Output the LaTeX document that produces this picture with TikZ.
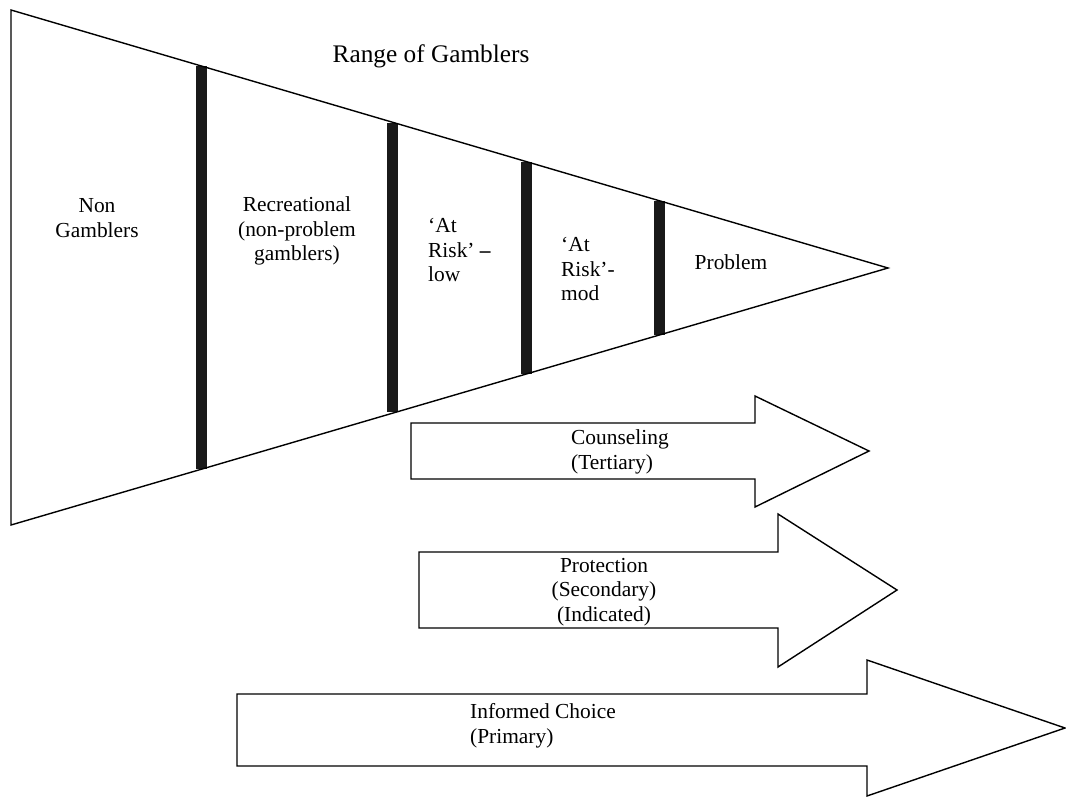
\documentclass[tikz,border=0pt]{standalone}
\usepackage{fontspec}
\setmainfont{Liberation Serif}
\begin{document}
\begin{tikzpicture}[x=1pt,y=-1pt,
  outline/.style={draw=black,line width=1.4pt,line join=miter},
  barfill/.style={fill=black!90},
  lbl/.style={inner sep=0pt,font=\fontsize{21.4}{24.5}\selectfont,text=black},
  ttl/.style={inner sep=0pt,font=\fontsize{25.3}{28}\selectfont,text=black}]
\useasboundingbox (0,0) rectangle (1066,798);
% bars
\fill[barfill] (195.5,66) rectangle (206.5,469);
\fill[barfill] (386.5,123) rectangle (397.5,412);
\fill[barfill] (520.5,162) rectangle (531.5,373.5);
\fill[barfill] (653.5,201) rectangle (664.5,334.5);
% funnel
\draw[outline] (11,10) -- (888,268) -- (11,525) -- cycle;
% arrows
\draw[outline] (411,423) -- (755,423) -- (755,396) -- (869,451) -- (755,507) -- (755,479) -- (411,479) -- cycle;
\draw[outline] (419,552) -- (778,552) -- (778,514) -- (897,590) -- (778,667) -- (778,628) -- (419,628) -- cycle;
\draw[outline] (237,694) -- (867,694) -- (867,660) -- (1065,728) -- (867,796) -- (867,766) -- (237,766) -- cycle;
% labels
\node[ttl] (title) at (431,56) {Range of Gamblers};
\node[lbl,align=center] (nongamb) at (97,218) {Non\\Gamblers};
\node[lbl,align=center] (recr) at (297,231) {Recreational\\(non-problem\\gamblers)};
\node[lbl,align=left,anchor=west] (atlow) at (428,250) {‘At\\Risk’ \textbf{–}\\low};
\node[lbl,align=left,anchor=west] (atmod) at (561,269) {‘At\\Risk’-\\mod};
\node[lbl] (problem) at (731,262) {Problem};
\node[lbl,align=left,anchor=west] (couns) at (571,452) {Counseling\\(Tertiary)};
\node[lbl,align=center] (protect) at (604,592) {Protection\\(Secondary)\\(Indicated)};
\node[lbl,align=left,anchor=west] (inform) at (470,726) {Informed Choice\\(Primary)};
\end{tikzpicture}
\end{document}
